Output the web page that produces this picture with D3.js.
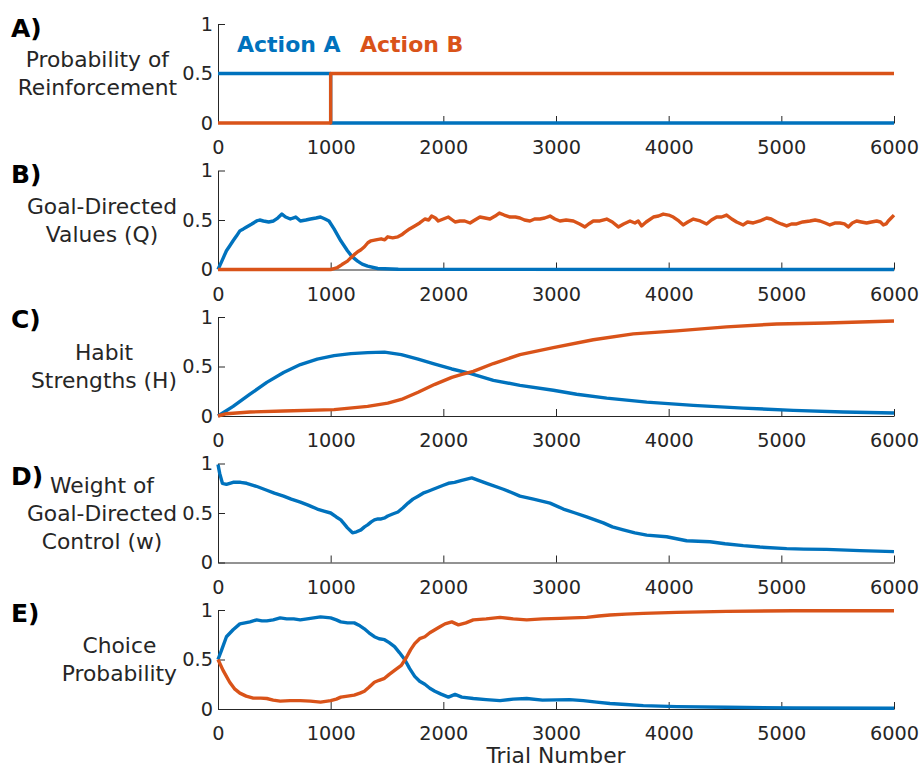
<!DOCTYPE html>
<html>
<head>
<meta charset="utf-8">
<script src="https://cdn.jsdelivr.net/npm/d3@7"></script>
<style>
  html, body { margin: 0; padding: 0; background: #fff; }
  svg { display: block; font-family: "DejaVu Sans", Verdana, sans-serif; }
</style>
</head>
<body>
<svg id="chart" width="923" height="768"></svg>
<script>
// Trial axis and value axis ticks
const trialTicks = [0, 1000, 2000, 3000, 4000, 5000, 6000];
const valueTicks = [0, 0.5, 1];
const valueTickLabels = ["0", "0.5", "1"];

// Panel titles and y-axis labels
const panelTags = ["A)", "B)", "C)", "D)", "E)"];
const panelYLabels = [
  ["Probability of", "Reinforcement"],
  ["Goal-Directed", "Values (Q)"],
  ["Habit", "Strengths (H)"],
  ["Weight of", "Goal-Directed", "Control (w)"],
  ["Choice", "Probability"]
];
const legendNames = ["Action A", "Action B"];

// A) probability of reinforcement, [trial, value]
const reinfA = [[0, 0.5], [1000, 0.5], [1000, 0], [6000, 0]];
const reinfB = [[0, 0], [1000, 0], [1000, 0.5], [6000, 0.5]];

// B) goal-directed values
const qA = [[0,0],[40,0.1],[75,0.19],[105,0.24],[134,0.29],[165,0.34],[194,0.39],[225,0.41],[254,0.43],[300,0.46],[343,0.49],[370,0.5],[403,0.49],[450,0.48],[493,0.49],[530,0.52],[567,0.56],[600,0.53],[642,0.51],[690,0.53],[731,0.49],[780,0.5],[821,0.51],[870,0.52],[910,0.53],[950,0.51],[985,0.49],[1030,0.41],[1090,0.29],[1149,0.19],[1190,0.13],[1239,0.085],[1280,0.055],[1328,0.034],[1418,0.01],[1600,0.002],[6000,0]];
const qB = [[0,0],[1000,0],[1030,0.01],[1060,0.02],[1100,0.05],[1149,0.085],[1180,0.12],[1209,0.15],[1240,0.18],[1269,0.2],[1300,0.23],[1330,0.27],[1358,0.29],[1400,0.3],[1448,0.31],[1480,0.3],[1507,0.33],[1550,0.32],[1597,0.33],[1630,0.35],[1657,0.375],[1700,0.41],[1746,0.44],[1790,0.47],[1836,0.51],[1870,0.5],[1896,0.54],[1930,0.52],[1955,0.49],[2000,0.51],[2045,0.53],[2080,0.5],[2104,0.48],[2148,0.49],[2190,0.49],[2237,0.47],[2280,0.5],[2325,0.53],[2370,0.52],[2414,0.51],[2460,0.54],[2497,0.57],[2540,0.55],[2592,0.53],[2640,0.53],[2680,0.52],[2720,0.5],[2769,0.49],[2810,0.51],[2858,0.51],[2900,0.52],[2947,0.54],[2990,0.51],[3035,0.49],[3090,0.5],[3154,0.49],[3210,0.46],[3257,0.43],[3290,0.46],[3331,0.49],[3390,0.49],[3450,0.51],[3500,0.48],[3553,0.43],[3600,0.46],[3657,0.49],[3700,0.47],[3730,0.49],[3760,0.44],[3800,0.48],[3864,0.53],[3910,0.54],[3952,0.56],[4000,0.55],[4041,0.53],[4090,0.49],[4130,0.45],[4170,0.48],[4219,0.51],[4280,0.49],[4337,0.46],[4380,0.5],[4426,0.53],[4470,0.53],[4514,0.55],[4560,0.51],[4603,0.48],[4662,0.45],[4700,0.48],[4751,0.47],[4810,0.49],[4869,0.52],[4910,0.51],[4958,0.48],[5000,0.46],[5047,0.44],[5090,0.46],[5136,0.46],[5190,0.48],[5254,0.49],[5300,0.5],[5343,0.49],[5390,0.47],[5431,0.45],[5480,0.47],[5520,0.47],[5560,0.46],[5594,0.43],[5630,0.47],[5668,0.49],[5710,0.48],[5757,0.47],[5800,0.48],[5846,0.49],[5880,0.48],[5905,0.45],[5930,0.46],[5949,0.49],[5975,0.52],[6000,0.55]];

// C) habit strengths
const hA = [[0,0],[134,0.097],[284,0.22],[433,0.34],[582,0.44],[731,0.52],[881,0.575],[1030,0.61],[1179,0.63],[1328,0.64],[1478,0.645],[1627,0.62],[1776,0.575],[1925,0.525],[2075,0.475],[2237,0.43],[2444,0.36],[2680,0.31],[2976,0.26],[3183,0.22],[3450,0.18],[3805,0.14],[4219,0.107],[4662,0.08],[5106,0.057],[5550,0.04],[6000,0.03]];
const hB = [[0,0],[75,0.023],[284,0.04],[582,0.05],[1030,0.064],[1328,0.097],[1507,0.13],[1627,0.167],[1776,0.24],[1925,0.32],[2075,0.39],[2164,0.42],[2266,0.45],[2444,0.53],[2680,0.62],[2976,0.69],[3331,0.77],[3686,0.83],[4071,0.86],[4514,0.9],[4958,0.93],[5402,0.94],[6000,0.96]];

// D) weight of goal-directed control
const wGD = [[0,0.99],[15,0.9],[39,0.8],[75,0.79],[134,0.81],[200,0.81],[254,0.8],[340,0.77],[433,0.73],[500,0.7],[582,0.67],[650,0.64],[731,0.61],[800,0.58],[881,0.54],[940,0.52],[1000,0.5],[1050,0.46],[1090,0.43],[1120,0.39],[1149,0.35],[1194,0.3],[1230,0.31],[1269,0.33],[1300,0.36],[1328,0.38],[1360,0.41],[1388,0.43],[1420,0.44],[1448,0.44],[1480,0.45],[1507,0.47],[1550,0.49],[1597,0.51],[1640,0.55],[1687,0.6],[1730,0.64],[1776,0.67],[1820,0.7],[1866,0.72],[1910,0.74],[1955,0.76],[2000,0.78],[2045,0.8],[2100,0.81],[2164,0.83],[2252,0.855],[2385,0.8],[2533,0.74],[2600,0.71],[2680,0.67],[2800,0.64],[2947,0.6],[3065,0.54],[3170,0.5],[3272,0.46],[3420,0.4],[3500,0.36],[3597,0.33],[3700,0.3],[3805,0.276],[3982,0.26],[4159,0.22],[4367,0.21],[4500,0.19],[4662,0.17],[4810,0.156],[5047,0.14],[5200,0.135],[5402,0.133],[5698,0.12],[6000,0.11]];

// E) choice probability
const pA = [[0,0.5],[30,0.59],[75,0.73],[134,0.8],[194,0.86],[240,0.87],[284,0.88],[343,0.9],[390,0.89],[433,0.89],[490,0.9],[552,0.92],[610,0.91],[672,0.91],[730,0.9],[791,0.91],[850,0.92],[910,0.93],[1000,0.92],[1050,0.9],[1090,0.88],[1150,0.87],[1209,0.87],[1260,0.84],[1299,0.81],[1340,0.77],[1388,0.73],[1430,0.71],[1478,0.7],[1520,0.67],[1567,0.63],[1610,0.57],[1657,0.5],[1700,0.41],[1746,0.33],[1790,0.28],[1836,0.25],[1880,0.21],[1925,0.18],[1980,0.15],[2045,0.12],[2104,0.147],[2164,0.12],[2266,0.106],[2380,0.095],[2503,0.085],[2620,0.1],[2740,0.106],[2880,0.09],[3006,0.092],[3120,0.095],[3242,0.085],[3360,0.07],[3479,0.055],[3620,0.045],[3775,0.034],[4071,0.024],[4514,0.017],[5106,0.01],[6000,0.007]];
const pB = [[0,0.5],[45,0.39],[104,0.27],[150,0.2],[194,0.16],[250,0.13],[313,0.11],[380,0.11],[433,0.106],[490,0.09],[552,0.08],[640,0.085],[731,0.085],[820,0.08],[910,0.07],[1000,0.085],[1050,0.1],[1090,0.12],[1150,0.13],[1209,0.14],[1260,0.16],[1299,0.18],[1340,0.22],[1388,0.27],[1430,0.29],[1478,0.31],[1520,0.35],[1567,0.39],[1627,0.44],[1672,0.52],[1710,0.6],[1746,0.66],[1790,0.71],[1836,0.73],[1880,0.77],[1925,0.8],[1970,0.83],[2015,0.86],[2075,0.88],[2134,0.85],[2200,0.87],[2266,0.9],[2380,0.91],[2503,0.925],[2620,0.91],[2740,0.9],[2880,0.91],[3035,0.915],[3150,0.92],[3272,0.925],[3380,0.94],[3479,0.95],[3620,0.958],[3775,0.966],[4071,0.976],[4514,0.986],[5106,0.993],[6000,0.993]];

const panelSeries = [
  [reinfA, reinfB],
  [qA, qB],
  [hA, hB],
  [wGD],
  [pA, pB]
];

const colorA = "#0072BD";
const colorB = "#D95319";
const axisColor = "#262626";

const svg = d3.select("#chart");

const plotLeft = 218, plotRight = 894;
const panelTop0 = 24, panelStep = 146.5, panelHeight = 99;

const x = d3.scaleLinear().domain([0, 6000]).range([plotLeft, plotRight]);

panelSeries.forEach((series, i) => {
  const top = panelTop0 + i * panelStep;
  const bottom = top + panelHeight;
  const y = d3.scaleLinear().domain([0, 1]).range([bottom, top]);
  const g = svg.append("g");

  // x axis, ticks pointing into the plot
  const xAxis = d3.axisBottom(x)
    .tickValues(trialTicks)
    .tickFormat(d3.format("d"))
    .tickSizeInner(-7).tickSizeOuter(0).tickPadding(17.5);
  const gx = g.append("g").attr("transform", `translate(0,${bottom})`).call(xAxis);

  // y axis
  const yAxis = d3.axisLeft(y)
    .tickValues(valueTicks)
    .tickFormat((d, k) => valueTickLabels[k])
    .tickSizeInner(-7).tickSizeOuter(0).tickPadding(5);
  const gy = g.append("g").attr("transform", `translate(${plotLeft},0)`).call(yAxis);

  [gx, gy].forEach(a => {
    a.select(".domain").attr("stroke", axisColor).attr("stroke-width", 1);
    a.selectAll(".tick line").attr("stroke", axisColor).attr("stroke-width", 1);
    a.selectAll(".tick text").attr("fill", axisColor)
      .style("font-size", "19.3px").style("font-family", "'DejaVu Sans', Verdana, sans-serif");
  });

  // data lines
  const line = d3.line().x(d => x(d[0])).y(d => y(d[1]));
  series.forEach((s, k) => {
    g.append("path")
      .datum(s)
      .attr("d", line)
      .attr("fill", "none")
      .attr("stroke", k === 0 ? colorA : colorB)
      .attr("stroke-width", 3.4)
      .attr("stroke-linejoin", "round");
  });

  // panel tag
  g.append("text")
    .attr("x", 11)
    .attr("y", [37, 183, 328, 485, 622][i])
    .attr("font-weight", "bold")
    .attr("font-size", 25)
    .attr("fill", "#000")
    .text(panelTags[i]);

  // multi-line y label, centred lines, block right edge next to tick labels
  const lines = panelYLabels[i];
  const lineGap = 28;
  const mid = y(0.5);
  const firstY = mid - (lines.length - 1) * lineGap / 2 + 7.5;
  const lab = g.append("text")
    .attr("font-size", 21.8)
    .attr("fill", axisColor)
    .attr("text-anchor", "middle");
  const spans = lines.map((t, k) => lab.append("tspan").attr("y", firstY + k * lineGap).text(t));
  const maxW = d3.max(spans, s => s.node().getComputedTextLength());
  const cx = 177 - maxW / 2;
  spans.forEach(s => s.attr("x", cx));
});

// legend
const legendX = [237, 360];
legendNames.forEach((name, k) => {
  svg.append("text")
    .attr("x", legendX[k])
    .attr("y", 52)
    .attr("font-weight", "bold")
    .attr("font-size", 22)
    .attr("fill", k === 0 ? colorA : colorB)
    .text(name);
});

// shared x-axis title
svg.append("text")
  .attr("x", (plotLeft + plotRight) / 2)
  .attr("y", 763)
  .attr("text-anchor", "middle")
  .attr("font-size", 21.8)
  .attr("fill", axisColor)
  .text("Trial Number");
</script>
</body>
</html>
